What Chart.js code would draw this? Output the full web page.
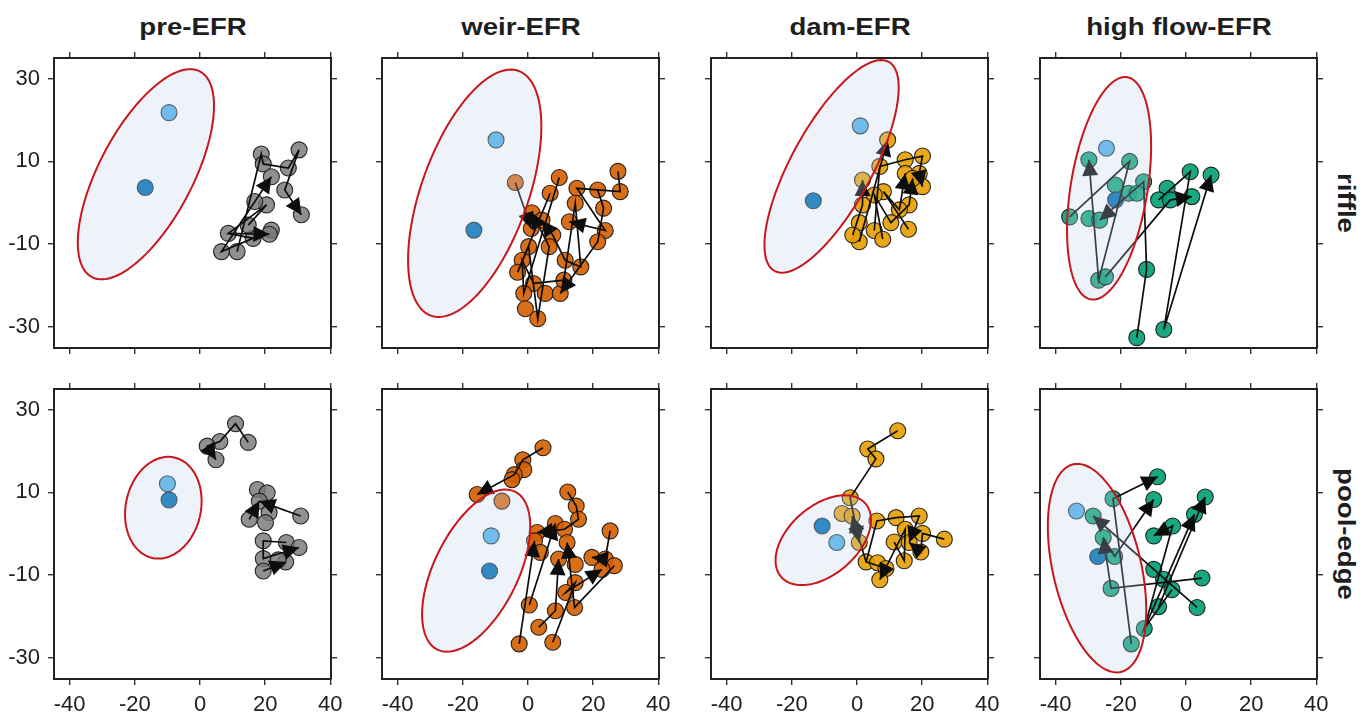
<!DOCTYPE html>
<html>
<head>
<meta charset="utf-8">
<script src="https://cdn.jsdelivr.net/npm/chart.js@4.4.1/dist/chart.umd.min.js"></script>
<style>
  html, body { margin: 0; padding: 0; background: #fff; }
  #page { position: relative; width: 1371px; height: 713px; overflow: hidden; }
  #page canvas { position: absolute; }
  .colTitle {
    position: absolute; top: 14px; line-height: 23px; white-space: nowrap;
    font: bold 23px "Liberation Sans", Arial, sans-serif;
    color: #1e1e1e; transform: translateX(-50%) scaleX(1.2);
  }
  .rowLabel {
    position: absolute; line-height: 23px; white-space: nowrap;
    font: bold 23px "Liberation Sans", Arial, sans-serif;
    color: #1e1e1e; transform: translate(-50%, -50%) rotate(90deg) scaleX(1.2);
  }
</style>
</head>
<body>
<div id="page"></div>
<script>
// ======= Data =======
const columns = ['pre-EFR', 'weir-EFR', 'dam-EFR', 'high flow-EFR'];
const rows = ['riffle', 'pool-edge'];
const xTicks = [-40, -20, 0, 20, 40];
const yTicks = [-30, -10, 10, 30];

// reference points: [light, dark]
// ellipse: [centre x, centre y, half width, half height, correlation]
// paths: indices into the points, arrow head on the last step

// pre-EFR / riffle
const preRiffleRef = [[-9.5, 21.8], [-16.8, 3.7]];
const preRifflePts = [[18.8, 11.8], [30.4, 12.8], [27.1, 8.4], [19.4, 9.4], [21.9, 6.3], [26.0, 3.1],
  [31.1, -2.9], [20.4, -0.5], [16.8, 0.3], [21.9, -6.6], [16.3, -8.6], [14.8, -5.4], [8.7, -7.4],
  [6.6, -11.8], [11.4, -11.8], [21.3, -7.6]];
const preRifflePaths = [[14, 0, 3, 2, 1, 5, 6], [12, 10, 13, 4], [11, 7, 12, 15]];
const preRiffleEllipse = [-16.6, 6.9, 20.9, 25.4, 0.65];

// weir-EFR / riffle
const weirRiffleRef = [[-9.8, 15.2], [-16.6, -6.6]];
const weirRifflePts = [[-3.9, 4.9], [9.6, 6.1], [6.8, 2.3], [1.2, -2.4], [4.3, -4.2], [1.0, -6.2],
  [7.6, -7.8], [6.5, -10.6], [0.2, -10.6], [15.0, 3.5], [14.5, -0.1], [21.4, 3.1], [27.6, 7.6],
  [28.3, 2.7], [23.2, -1.3], [12.7, -4.6], [23.7, -6.7], [21.4, -9.4], [-1.8, -13.9], [-3.2, -16.8],
  [11.4, -13.9], [16.2, -15.5], [1.7, -19.5], [-1.3, -21.9], [5.3, -21.9], [9.9, -21.9], [11.0, -18.7],
  [-0.8, -25.6], [3.0, -28.0]];
const weirRifflePaths = [[0, 5], [2, 19, 8, 28, 7, 3], [12, 13, 9, 16, 15], [11, 14, 17, 25],
  [1, 23, 18, 22, 26, 10, 21, 20, 6, 4]];
const weirRiffleEllipse = [-16.35, 2.3, 20.45, 29.9, 0.54];

// dam-EFR / riffle
const damRiffleRef = [[1.0, 18.6], [-13.4, 0.5]];
const damRifflePts = [[9.4, 15.2], [7.0, 8.8], [1.7, 5.5], [14.8, 10.4], [20.1, 11.3], [19.1, 7.1],
  [20.1, 3.9], [14.8, 7.1], [17.1, 5.9], [8.1, 2.7], [5.3, 1.9], [1.7, -0.5], [16.0, -0.5],
  [13.0, -1.7], [0.7, -4.8], [5.3, -6.7], [10.4, -4.8], [15.8, -6.4], [7.9, -8.8], [0.7, -9.4],
  [-1.3, -7.8]];
const damRifflePaths = [[19, 0], [20, 11, 2], [15, 1, 3, 4, 5, 6], [18, 10, 16, 12, 8], [17, 9, 13, 7]];
const damRiffleEllipse = [-7.8, 8.8, 20.6, 25.7, 0.74];

// high flow-EFR / riffle
const highRiffleRef = [[-24.4, 13.2], [-21.6, 0.7]];
const highRifflePts = [[-29.8, 10.4], [-17.3, 10.0], [-21.7, 4.3], [-13.0, 5.1], [-17.6, 2.3],
  [-35.7, -3.4], [-29.8, -3.8], [-26.5, -4.2], [-26.8, -18.7], [-24.7, -17.9], [1.3, 7.5], [7.7, 6.7],
  [-5.8, 3.5], [-8.4, 0.7], [-4.8, 0.7], [1.8, 1.5], [-12.1, -16.1], [-15.1, -32.6], [-6.8, -30.6],
  [-15.0, 2.3]];
const highRifflePaths = [[5, 1, 8, 0], [17, 16, 3, 7], [13, 10, 18, 11], [9, 14, 15]];
const highRiffleEllipse = [-23.6, 3.5, 12.9, 26.9, 0.38];

// pre-EFR / pool-edge
const prePoolRef = [[-10.0, 12.1], [-9.5, 8.2]];
const prePoolPts = [[10.9, 26.6], [14.8, 22.1], [6.1, 22.3], [2.2, 21.2], [4.9, 17.9], [17.6, 10.7],
  [20.6, 9.9], [18.2, 7.9], [21.2, 5.1], [30.9, 4.3], [15.1, 3.5], [20.1, 2.7], [19.4, -1.7],
  [26.5, -2.1], [30.4, -3.3], [19.4, -6.0], [26.3, -6.8], [24.0, -6.3], [19.4, -9.0]];
const prePoolPaths = [[1, 0, 2, 3, 4], [9, 7], [10, 7], [13, 12, 15, 14], [18, 16]];
const prePoolEllipse = [-11.25, 6.3, 11.75, 12.3, 0.13];

// weir-EFR / pool-edge
const weirPoolRef = [[-11.3, -0.5], [-11.8, -9.0]];
const weirPoolPts = [[4.6, 20.8], [-1.6, 17.9], [-1.3, 15.5], [-4.2, 14.3], [-4.9, 13.1], [-15.6, 9.5],
  [-8.0, 7.9], [12.2, 10.1], [14.8, 6.7], [15.5, 3.5], [25.2, 0.7], [8.4, 2.5], [11.2, 1.1], [2.8, 0.3],
  [2.0, -1.7], [3.8, -4.5], [12.0, -2.1], [9.4, -6.1], [14.5, -7.4], [19.6, -5.7], [23.7, -6.1],
  [26.5, -7.7], [22.7, -8.6], [14.5, -11.8], [11.6, -14.2], [14.3, -17.8], [8.4, -18.6], [0.4, -17.2],
  [3.3, -22.6], [-2.7, -26.6], [7.6, -26.2]];
const weirPoolPaths = [[0, 1, 3, 5], [7, 8, 9, 12, 13], [29, 14], [27, 11], [28, 26, 17],
  [30, 23, 24, 22], [10, 20, 19], [21, 25, 16]];
const weirPoolEllipse = [-15.9, -8.9, 16.6, 19.6, 0.54];

// dam-EFR / pool-edge
const damPoolRef = [[-6.2, -2.1], [-10.7, 1.9]];
const damPoolPts = [[12.5, 24.9], [3.3, 20.5], [5.8, 18.1], [-2.1, 8.7], [-4.6, 4.9], [-1.5, 4.3],
  [0.7, -2.1], [6.1, 3.1], [12.0, 3.9], [19.1, 4.3], [14.8, 1.1], [20.1, 0.1], [26.8, -1.3],
  [11.4, -2.0], [19.6, -4.4], [14.5, -6.5], [2.8, -6.8], [6.3, -7.0], [8.9, -8.4], [7.0, -11.1],
  [16.0, -2.1]];
const damPoolPaths = [[0, 1, 2, 3, 6], [18, 16, 5], [16, 7, 8, 9, 20], [12, 11, 14, 20], [13, 15, 10, 19]];
const damPoolEllipse = [-10.35, -1.55, 14.65, 10.85, 0.45];

// high flow-EFR / pool-edge
const highPoolRef = [[-33.6, 5.5], [-27.1, -5.5]];
const highPoolPts = [[-28.5, 4.3], [-25.4, -0.9], [-22.4, 8.5], [-21.9, -5.5], [-23.0, -13.2],
  [-16.8, -26.6], [-12.8, -22.9], [-8.7, 13.8], [-9.9, 8.3], [-4.1, 1.9], [-9.9, -0.5], [5.9, 8.9],
  [2.6, 4.7], [-9.9, -8.6], [-6.9, -11.0], [-4.3, -13.5], [4.9, -10.7], [-8.4, -17.6], [3.4, -17.8]];
const highPoolPaths = [[5, 2, 7], [1, 3, 8], [18, 0], [16, 4, 1], [6, 9, 10], [17, 11], [15, 6, 12]];
const highPoolEllipse = [-27.3, -8.3, 15.1, 25.2, -0.40];

const groupColors = ['rgba(120,120,120,0.82)', 'rgba(213,94,0,0.9)', 'rgba(230,159,0,0.9)', 'rgba(0,158,115,0.9)'];
const refColors = ['#56B4E9', '#0072B2'];

const panels = [
  { row: 0, col: 0, ref: preRiffleRef, pts: preRifflePts, paths: preRifflePaths, ellipse: preRiffleEllipse },
  { row: 0, col: 1, ref: weirRiffleRef, pts: weirRifflePts, paths: weirRifflePaths, ellipse: weirRiffleEllipse },
  { row: 0, col: 2, ref: damRiffleRef, pts: damRifflePts, paths: damRifflePaths, ellipse: damRiffleEllipse },
  { row: 0, col: 3, ref: highRiffleRef, pts: highRifflePts, paths: highRifflePaths, ellipse: highRiffleEllipse },
  { row: 1, col: 0, ref: prePoolRef, pts: prePoolPts, paths: prePoolPaths, ellipse: prePoolEllipse },
  { row: 1, col: 1, ref: weirPoolRef, pts: weirPoolPts, paths: weirPoolPaths, ellipse: weirPoolEllipse },
  { row: 1, col: 2, ref: damPoolRef, pts: damPoolPts, paths: damPoolPaths, ellipse: damPoolEllipse },
  { row: 1, col: 3, ref: highPoolRef, pts: highPoolPts, paths: highPoolPaths, ellipse: highPoolEllipse }
];

// ======= Layout =======
const colLeft = [54, 382, 711, 1040];
const rowTop = [58, 389];
const boxW = 277, boxH = 290;
const pad = { l: 60, r: 20, t: 24, b: 40 };
const xMin = -44.8, xMax = 40.2, yMin = -35.1, yMax = 35.0;

const page = document.getElementById('page');
Chart.defaults.font.family = '"Liberation Sans", Arial, sans-serif';

columns.forEach((name, c) => {
  const d = document.createElement('div');
  d.className = 'colTitle';
  d.textContent = name;
  d.style.left = (colLeft[c] + boxW / 2) + 'px';
  page.appendChild(d);
});
rows.forEach((name, r) => {
  const d = document.createElement('div');
  d.className = 'rowLabel';
  d.textContent = name;
  d.style.left = '1345px';
  d.style.top = (rowTop[r] + boxH / 2) + 'px';
  page.appendChild(d);
});

// ======= Arrows + ellipse =======
function drawHead(ctx, x0, y0, x1, y1) {
  const ang = Math.atan2(y1 - y0, x1 - x0);
  const len = 16, half = 8;
  const bx = x1 - len * Math.cos(ang), by = y1 - len * Math.sin(ang);
  ctx.beginPath();
  ctx.moveTo(x1, y1);
  ctx.lineTo(bx + half * Math.sin(ang), by - half * Math.cos(ang));
  ctx.lineTo(bx - half * Math.sin(ang), by + half * Math.cos(ang));
  ctx.closePath();
  ctx.fill();
}

function overlayFor(panel) {
  return {
    id: 'overlay',
    afterDatasetsDraw(chart) {
      const { ctx, chartArea: a } = chart;
      const xs = chart.scales.x, ys = chart.scales.y;
      ctx.save();
      ctx.beginPath();
      ctx.rect(a.left, a.top, a.width, a.height);
      ctx.clip();

      ctx.strokeStyle = '#0d0d0d';
      ctx.fillStyle = '#0d0d0d';
      ctx.lineWidth = 1.7;
      panel.paths.forEach(path => {
        const p = path.map(i => [xs.getPixelForValue(panel.pts[i][0]), ys.getPixelForValue(panel.pts[i][1])]);
        ctx.beginPath();
        p.forEach((q, k) => k ? ctx.lineTo(q[0], q[1]) : ctx.moveTo(q[0], q[1]));
        ctx.stroke();
        const q0 = p[p.length - 2], q1 = p[p.length - 1];
        drawHead(ctx, q0[0], q0[1], q1[0], q1[1]);
      });

      const [cx, cy, w, h, rho] = panel.ellipse;
      const shift = Math.acos(rho);
      ctx.beginPath();
      for (let k = 0; k <= 120; k++) {
        const t = k / 120 * Math.PI * 2;
        const ex = xs.getPixelForValue(cx + w * Math.cos(t));
        const ey = ys.getPixelForValue(cy + h * Math.cos(t - shift));
        k ? ctx.lineTo(ex, ey) : ctx.moveTo(ex, ey);
      }
      ctx.closePath();
      ctx.fillStyle = 'rgba(190,210,235,0.26)';
      ctx.fill();
      ctx.strokeStyle = '#c8161d';
      ctx.lineWidth = 2;
      ctx.stroke();
      ctx.restore();
    }
  };
}

// ======= Charts =======
const gridOpts = { display: true, drawOnChartArea: false, drawTicks: true, tickLength: 6, color: '#333', lineWidth: 1.4 };
const borderOpts = { display: true, color: '#222', width: 2 };
const tickFont = { size: 22, family: '"Liberation Sans", Arial, sans-serif' };

function axis(position, vals, showLabels, size) {
  const horiz = position === 'top' || position === 'bottom';
  return {
    type: 'linear',
    position: position,
    min: horiz ? xMin : yMin,
    max: horiz ? xMax : yMax,
    afterBuildTicks: s => { s.ticks = vals.map(v => ({ value: v })); },
    afterFit: s => { if (horiz) s.height = size; else s.width = size; },
    grid: gridOpts,
    border: borderOpts,
    ticks: { display: showLabels, font: tickFont, color: '#1e1e1e', padding: horiz ? 7 : 8 }
  };
}

panels.forEach(panel => {
  const cv = document.createElement('canvas');
  const w = boxW + pad.l + pad.r, h = boxH + pad.t + pad.b;
  cv.width = w; cv.height = h;
  cv.style.width = w + 'px'; cv.style.height = h + 'px';
  cv.style.left = (colLeft[panel.col] - pad.l) + 'px';
  cv.style.top = (rowTop[panel.row] - pad.t) + 'px';
  page.appendChild(cv);

  new Chart(cv.getContext('2d'), {
    type: 'scatter',
    data: {
      datasets: [{
        data: panel.ref.map(p => ({ x: p[0], y: p[1] })),
        backgroundColor: refColors,
        borderColor: 'rgba(30,30,30,0.85)',
        borderWidth: 1.1,
        pointRadius: 8
      }, {
        data: panel.pts.map(p => ({ x: p[0], y: p[1] })),
        backgroundColor: groupColors[panel.col],
        borderColor: 'rgba(20,20,20,0.9)',
        borderWidth: 1.1,
        pointRadius: 8
      }]
    },
    options: {
      responsive: false,
      animation: false,
      devicePixelRatio: 1,
      events: [],
      layout: { padding: 0 },
      plugins: { legend: { display: false }, tooltip: { enabled: false } },
      scales: {
        x: axis('bottom', xTicks, panel.row === 1, pad.b),
        x2: axis('top', xTicks, false, pad.t),
        y: axis('left', yTicks, panel.col === 0, pad.l),
        y2: axis('right', yTicks, false, pad.r)
      }
    },
    plugins: [overlayFor(panel)]
  });
});
</script>
</body>
</html>
